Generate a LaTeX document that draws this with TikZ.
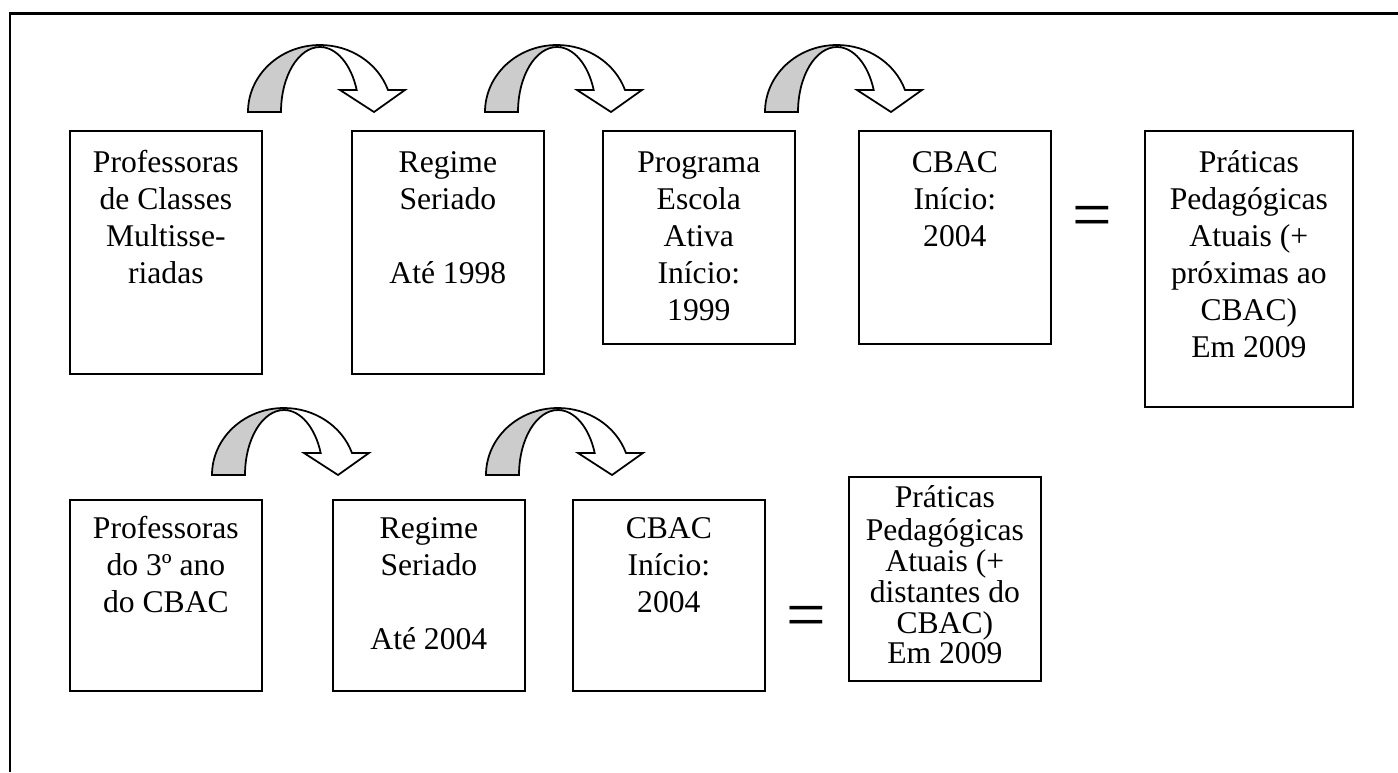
\documentclass[tikz,border=0pt]{standalone}
\usepackage{fontspec}
\setmainfont{Liberation Serif}
\usetikzlibrary{positioning}

\newcommand{\boxtxt}[3]{\parbox[t][#1][t]{#2}{\centering\strut #3}}

\tikzset{
  box/.style={draw, line width=1pt, anchor=north west, inner xsep=0pt, inner ysep=0.32cm,
              font=\fontsize{18}{21}\selectfont},
  lowbox/.style={box, inner ysep=0.26cm},
  tightbox/.style={box, inner ysep=0.18cm, font=\fontsize{18}{17.5}\selectfont},
  equal/.style={inner sep=0pt, font=\fontsize{40}{40}\selectfont},
  curvearrow/.pic={
    \filldraw[fill=gray!40, line width=1pt]
      (0,0) arc[start angle=180, end angle=90, x radius=72, y radius=67]
      -- (72,65) arc[start angle=90, end angle=180, x radius=39, y radius=65] -- cycle;
    \filldraw[fill=white, line width=1pt]
      (72,67) arc[start angle=90, end angle=19.2, x radius=72, y radius=67]
      -- ++(17,0) -- (126,0) -- (92,22) -- (108.7,22)
      arc[start angle=19.8, end angle=90, x radius=39, y radius=65] -- cycle;
  }
}

\begin{document}
\begin{tikzpicture}[x=0.02cm, y=0.02cm]
  \useasboundingbox (0,0) rectangle (1398,-772);
  \draw[line width=1.7pt] (10,-772) -- (10,-13) -- (1398,-13);

  % first row
  \node[box] (prof1) at (69,-130) {\boxtxt{4.22cm}{3.84cm}{Professoras\\de Classes\\Multisse-\\riadas}};
  \node[box] (regime1) at (351,-130) {\boxtxt{4.22cm}{3.84cm}{Regime\\Seriado\\\mbox{}\\Até 1998}};
  \node[box] (escola) at (602,-130) {\boxtxt{3.62cm}{3.84cm}{Programa\\Escola\\Ativa\\Início:\\1999}};
  \node[box] (cbac1) at (858,-130) {\boxtxt{3.62cm}{3.84cm}{CBAC\\Início:\\2004}};
  \node[equal] (eq1) at (1092,-222) {=};
  \node[box] (praticas1) at (1144,-130) {\boxtxt{4.88cm}{4.16cm}{Práticas\\Pedagógicas\\Atuais (+\\próximas ao\\CBAC)\\Em 2009}};

  \pic at (248,-112) {curvearrow};
  \pic at (485,-112) {curvearrow};
  \pic at (765,-112) {curvearrow};

  % second row
  \node[lowbox] (prof2) at (69,-499) {\boxtxt{3.30cm}{3.84cm}{Professoras\\do 3º ano\\do CBAC}};
  \node[lowbox] (regime2) at (332,-499) {\boxtxt{3.30cm}{3.84cm}{Regime\\Seriado\\\mbox{}\\Até 2004}};
  \node[lowbox] (cbac2) at (572,-499) {\boxtxt{3.30cm}{3.84cm}{CBAC\\Início:\\2004}};
  \node[equal] (eq2) at (806,-622) {=};
  \node[tightbox] (praticas2) at (848,-476) {\boxtxt{3.72cm}{3.84cm}{Práticas\\Pedagógicas\\Atuais (+\\distantes do\\CBAC)\\Em 2009}};

  \pic at (212,-475) {curvearrow};
  \pic at (486,-475) {curvearrow};
\end{tikzpicture}
\end{document}
